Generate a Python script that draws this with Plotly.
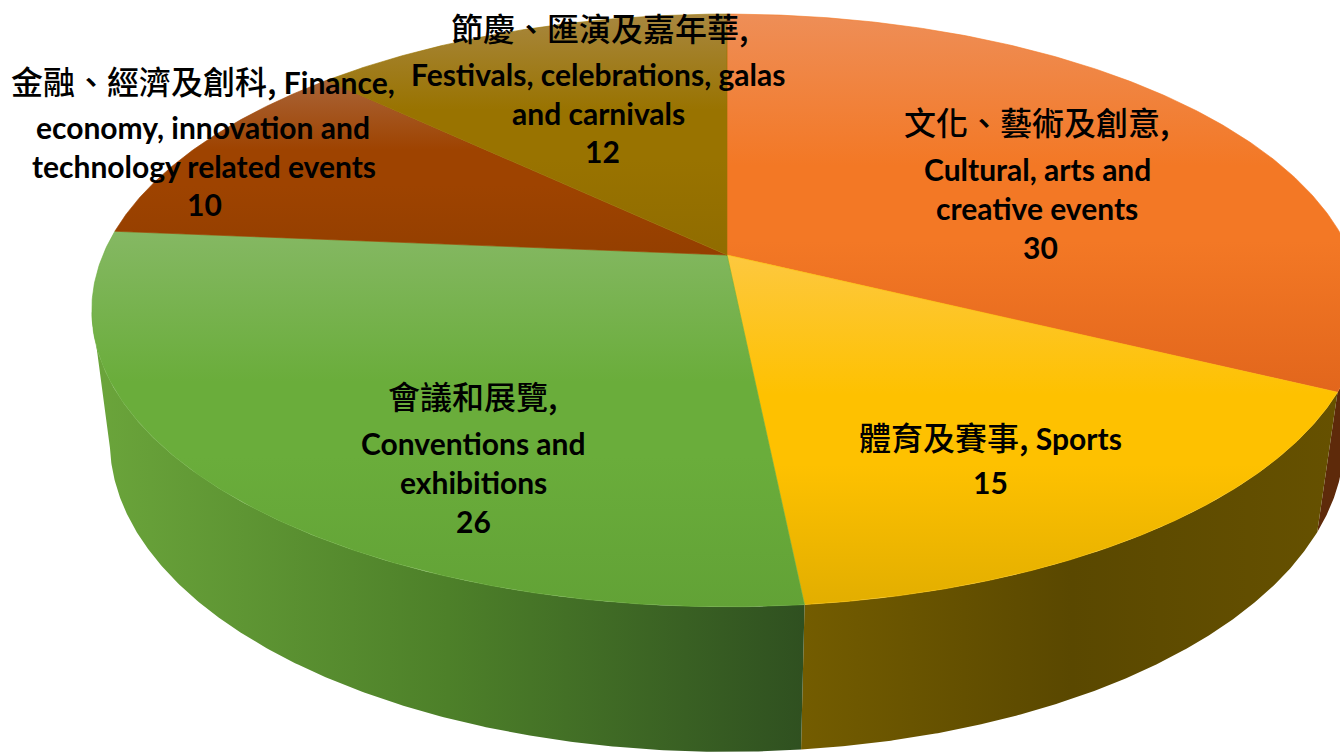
import numpy as np
import plotly.graph_objects as go

categories = ["Cultural, arts and creative events", "Sports", "Conventions and exhibitions",
              "Finance, economy, innovation and technology related events",
              "Festivals, celebrations, galas and carnivals"]
values = [30, 15, 26, 10, 12]
top_colors = ["#F37825", "#FEC100", "#6AAD3B", "#9E4300", "#997300"]
top_light = ["#EE8E57", "#FDC83F", "#85B863", "#A96438", "#A8873F"]
top_dark = ["#E2661C", "#E2AE00", "#62A236", "#943F00", "#906C00"]
wall_colors = [["#5E2A0A", "#5E2A0A"], ["#735C00", "#5A4800", "#665100"],
               ["#6BA53B", "#4D8029", "#2F5020"], ["#5E2A0A", "#5E2A0A"], ["#5C4500", "#5C4500"]]

CJK = "'Noto Sans CJK TC'"
cjk_size = 32
lat_size = 30
def zh(s): return f'<span style="font-family:{CJK};font-size:{cjk_size}px;font-weight:500">{s}</span>'
def en(s): return f'<b>{s}</b>'

label_lines = [
    (zh("節慶、匯演及嘉年華,"), 600, 27), (en("Festivals, celebrations, galas"), 598, 74),
    (en("and carnivals"), 598, 113), (en(str(values[4])), 602, 151),
    (zh("金融、經濟及創科,") + en(" Finance,"), 203, 80), (en("economy, innovation and"), 203, 127),
    (en("technology related events"), 204, 166), (en(str(values[3])), 204, 204),
    (zh("文化、藝術及創意,"), 1037, 121), (en("Cultural, arts and"), 1037, 169),
    (en("creative events"), 1037, 208), (en(str(values[0])), 1040, 247),
    (zh("體育及賽事,") + en(" Sports"), 990, 436), (en(str(values[1])), 990, 482),
    (zh("會議和展覽,"), 473, 395), (en("Conventions and"), 473, 443),
    (en("exhibitions"), 473, 482), (en(str(values[2])), 473, 521),
]

# perspective camera: circle (u, v) on the top or lower plane -> screen
CX, CY, A, B, K = 727, 255, 624, 286, 0.187
A2, B2, M, C = 669, 306.6, 0.1, 147
V_SILHOUETTE = -0.19

def project(theta, low=False):
    u, v = np.sin(theta), np.cos(theta)
    if low:
        w = 1 + K * v + M
        return CX + A2 * u / w, CY + (C - B2 * v) / w
    w = 1 + K * v
    return CX + A * u / w, CY - B * v / w

total = sum(values)
edges = np.cumsum([0] + values) / total * 2 * np.pi

def scale(cols):
    return [[i / (len(cols) - 1), c] for i, c in enumerate(cols)]

fig = go.Figure()
for i, name in enumerate(categories):
    th = np.linspace(edges[i], edges[i + 1], 300)
    th = th[np.cos(th) < V_SILHOUETTE]
    if len(th) < 2:
        continue
    xt, yt = project(th)
    xb, yb = project(th, low=True)
    x = np.concatenate([xt, xb[::-1]])
    y = np.concatenate([yt, yb[::-1]])
    fig.add_trace(go.Scatter(
        x=x, y=y, mode="lines", line=dict(width=0), fill="toself", name=name,
        fillgradient=dict(type="horizontal", colorscale=scale(wall_colors[i]),
                          start=float(xt.min()), stop=float(xt.max())),
        hoverinfo="skip", showlegend=False))
for i, name in enumerate(categories):
    th = np.linspace(edges[i], edges[i + 1], 200)
    xt, yt = project(th)
    x = np.concatenate([[CX], xt, [CX]])
    y = np.concatenate([[CY], yt, [CY]])
    fig.add_trace(go.Scatter(
        x=x, y=y, mode="lines", line=dict(width=0.6, color=top_colors[i]), fill="toself", name=name,
        fillgradient=dict(type="vertical",
                          colorscale=[[0, top_light[i]], [0.4, top_colors[i]],
                                      [0.6, top_colors[i]], [1, top_dark[i]]],
                          start=float(y.min()), stop=float(y.max())),
        text=f"{name}: {values[i]}", hoverinfo="text", showlegend=False))

anns = [dict(x=x, y=y, text=t, showarrow=False, xanchor="center", yanchor="middle",
             font=dict(family="Lato, 'Noto Sans CJK TC'", size=lat_size, color="#000000"))
        for t, x, y in label_lines]

fig.update_layout(
    width=1340, height=752, margin=dict(l=0, r=0, t=0, b=0),
    paper_bgcolor="#FFFFFF", plot_bgcolor="#FFFFFF",
    xaxis=dict(range=[0, 1340], visible=False, fixedrange=True),
    yaxis=dict(range=[752, 0], visible=False, fixedrange=True),
    annotations=anns, showlegend=False)
fig.write_html("out.html", config=dict(displayModeBar=False),
               post_script="document.body.style.margin='0';document.body.style.overflow='hidden';")
